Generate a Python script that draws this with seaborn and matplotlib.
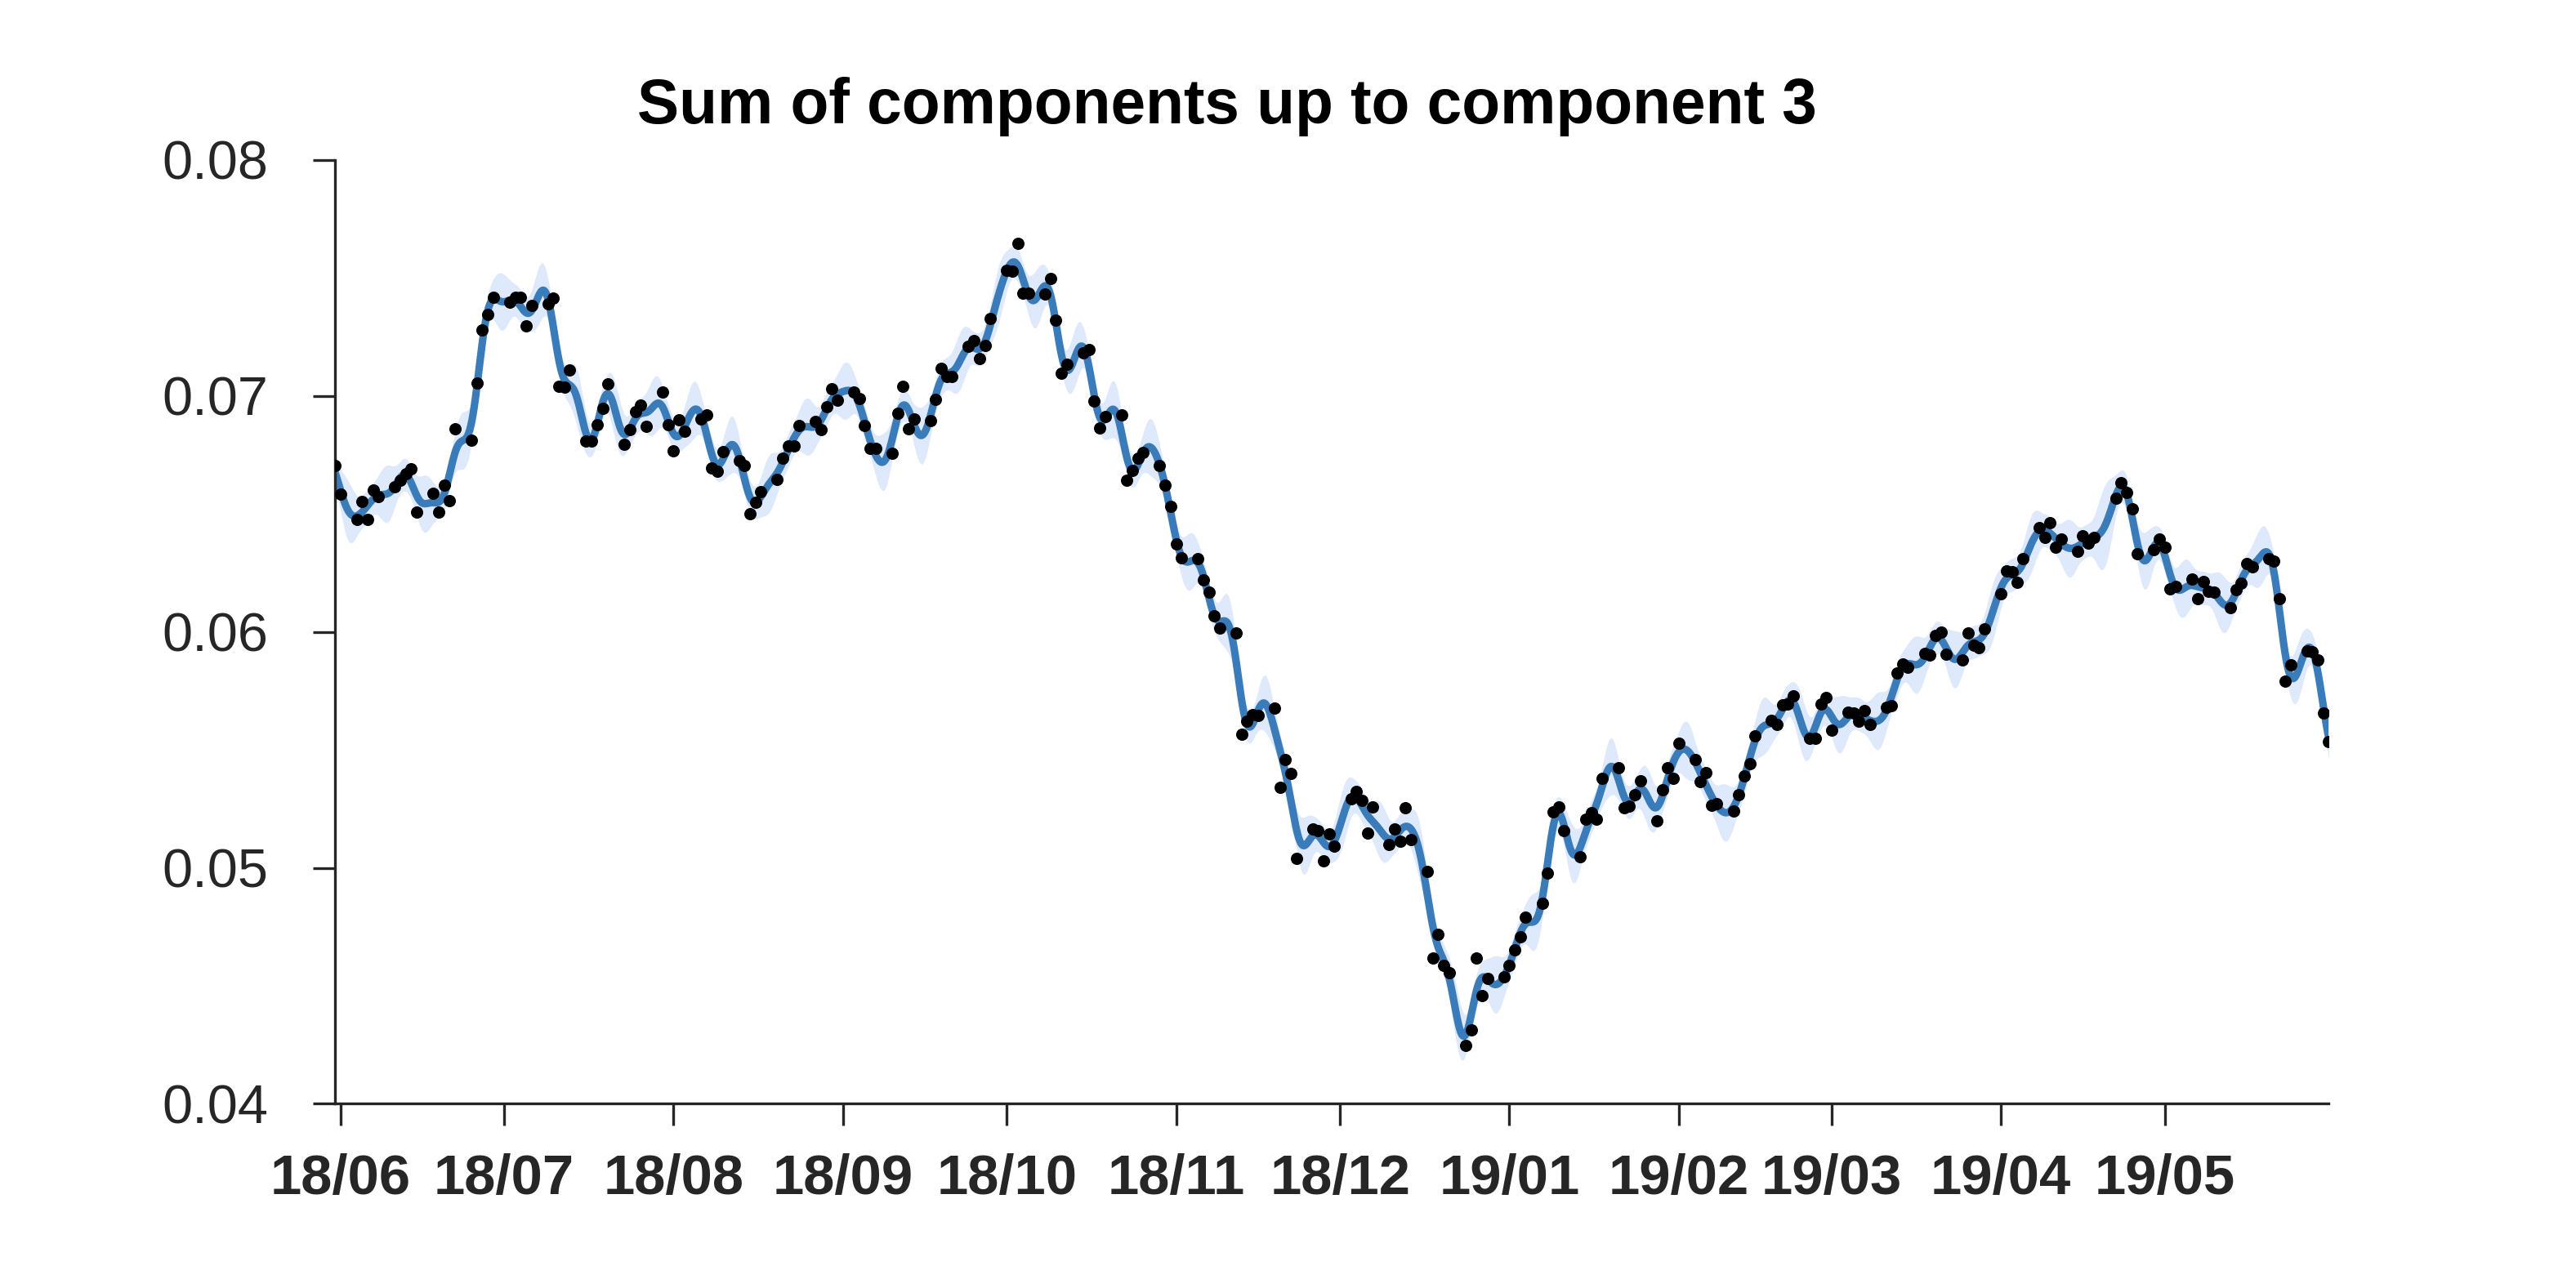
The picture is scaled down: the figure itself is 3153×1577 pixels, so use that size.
import numpy as np
import pandas as pd
import matplotlib
matplotlib.use("Agg")
import matplotlib.pyplot as plt
import seaborn as sns

# ---------------- data ----------------
start_date = "2018-05-31"
end_date = "2019-05-31"
market_holidays = ["2019-04-19"]

observed = [
    0.06705, 0.06582,
    0.06475, 0.06553, 0.06475, 0.06599, 0.06574,
    0.06613, 0.06643, 0.06668, 0.06691, 0.06507,
    0.06585, 0.06507, 0.06622, 0.06555, 0.06859,
    0.06811, 0.07055, 0.07277, 0.07346, 0.07418,
    0.07397, 0.07418, 0.07418, 0.07297, 0.07383,
    0.07389, 0.07415, 0.07039, 0.07037, 0.07108,
    0.06809, 0.06809, 0.06878, 0.06947, 0.07049,
    0.06793, 0.06855, 0.06931, 0.06962, 0.06870,
    0.07017, 0.06876, 0.06766, 0.06899, 0.06851,
    0.06901, 0.06920, 0.06694, 0.06680, 0.06763,
    0.06724, 0.06705, 0.06501, 0.06547, 0.06593,
    0.06645, 0.06735, 0.06789, 0.06786, 0.06874,
    0.06890, 0.06855, 0.06954, 0.07028, 0.06982,
    0.07017, 0.06989, 0.06874, 0.06778, 0.06778,
    0.06757, 0.06926, 0.07040, 0.06859, 0.06901,
    0.06893, 0.06985, 0.07116, 0.07083, 0.07081,
    0.07210, 0.07233, 0.07158, 0.07214, 0.07328,
    0.07533, 0.07527, 0.07645, 0.07435, 0.07435,
    0.07432, 0.07498, 0.07320, 0.07097, 0.07135,
    0.07181, 0.07195, 0.06977, 0.06864, 0.06913,
    0.06918, 0.06643, 0.06682, 0.06734, 0.06761,
    0.06705, 0.06620, 0.06532, 0.06371, 0.06313,
    0.06311, 0.06221, 0.06167, 0.06066, 0.06017,
    0.05994, 0.05567, 0.05621, 0.05648, 0.05644,
    0.05677, 0.05342, 0.05460, 0.05400, 0.05040,
    0.05164, 0.05156, 0.05029, 0.05144, 0.05091,
    0.05294, 0.05325, 0.05287, 0.05146, 0.05259,
    0.05098, 0.05164, 0.05114, 0.05256, 0.05118,
    0.04985, 0.04619, 0.04717, 0.04587, 0.04556,
    0.04249, 0.04314, 0.04619, 0.04458, 0.04530,
    0.04538, 0.04587, 0.04653, 0.04706, 0.04791,
    0.04849, 0.04976, 0.05236, 0.05259, 0.05156,
    0.05048, 0.05206, 0.05233, 0.05206, 0.05379,
    0.05423, 0.05256, 0.05262, 0.05310, 0.05368,
    0.05198, 0.05331, 0.05423, 0.05379, 0.05527,
    0.05458, 0.05365, 0.05402, 0.05264, 0.05271,
    0.05239, 0.05310, 0.05391, 0.05440, 0.05559,
    0.05625, 0.05607, 0.05690, 0.05694, 0.05728,
    0.05550, 0.05550, 0.05694, 0.05723, 0.05582,
    0.05659, 0.05656, 0.05621, 0.05667, 0.05607,
    0.05679, 0.05686, 0.05827, 0.05863, 0.05850,
    0.05907, 0.05901, 0.05986, 0.05999, 0.05905,
    0.05882, 0.05994, 0.05944, 0.05933, 0.06013,
    0.06161, 0.06259, 0.06253, 0.06209, 0.06311,
    0.06440, 0.06401, 0.06463, 0.06357, 0.06392,
    0.06340, 0.06405, 0.06374, 0.06401,
    0.06567, 0.06631, 0.06590, 0.06521, 0.06332,
    0.06348, 0.06394, 0.06359, 0.06182, 0.06193,
    0.06224, 0.06140, 0.06213, 0.06173, 0.06167,
    0.06103, 0.06178, 0.06205, 0.06288, 0.06276,
    0.06311, 0.06299, 0.06140, 0.05790, 0.05861,
    0.05919, 0.05917, 0.05882, 0.05657, 0.05536,
]

y_ticks = [0.04, 0.05, 0.06, 0.07, 0.08]
y_tick_labels = ["0.04", "0.05", "0.06", "0.07", "0.08"]
x_tick_dates = ["2018-06-01", "2018-07-01", "2018-08-01", "2018-09-01",
                "2018-10-01", "2018-11-01", "2018-12-01", "2019-01-01",
                "2019-02-01", "2019-03-01", "2019-04-01", "2019-05-01"]
x_tick_labels = ["18/06", "18/07", "18/08", "18/09", "18/10", "18/11",
                 "18/12", "19/01", "19/02", "19/03", "19/04", "19/05"]
title_text = "Sum of components up to component 3"

# ---------------- build table ----------------
dates = pd.bdate_range(start_date, end_date, freq="C", holidays=market_holidays)
df = pd.DataFrame({"date": dates, "value": observed})

# Gaussian-process smoother of the observations (slow + fast component)
t_obs = (df["date"] - df["date"].iloc[0]).dt.days.to_numpy(float)
y_obs = df["value"].to_numpy(float)
t_grid = np.arange(t_obs[0], t_obs[-1] + 1e-9, 0.1)


def kern(a, b):
    d = a[:, None] - b[None, :]
    return (0.008 ** 2) * np.exp(-d ** 2 / (2 * 25.0 ** 2)) + \
           (0.0013 ** 2) * np.exp(-d ** 2 / (2 * 2.3 ** 2))


noise = 0.00036
mu = y_obs.mean()
K = kern(t_obs, t_obs) + noise ** 2 * np.eye(len(t_obs))
Ks = kern(t_grid, t_obs)
L = np.linalg.cholesky(K)
alpha = np.linalg.solve(L.T, np.linalg.solve(L, y_obs - mu))
f_mean = mu + Ks @ alpha
v = np.linalg.solve(L, Ks.T)
prior_var = 0.008 ** 2 + 0.0013 ** 2
f_std = np.sqrt(np.clip(prior_var - np.sum(v ** 2, axis=0), 0, None))
grid_dates = df["date"].iloc[0] + pd.to_timedelta(t_grid, unit="D")
fit = pd.DataFrame({"date": grid_dates, "mean": f_mean,
                    "lo": f_mean - 3.0 * f_std, "hi": f_mean + 3.0 * f_std})

# ---------------- plot ----------------
sns.set_theme(style="ticks")
plt.rcParams["font.family"] = ["Liberation Sans", "DejaVu Sans"]
text_color = "#262626"

fig = plt.figure(figsize=(3153 / 300, 1577 / 300), dpi=300)
ax = fig.add_axes([0.130, 0.143, 0.774, 0.733])

ax.fill_between(fit["date"], fit["lo"], fit["hi"], color="#dfe9fc", lw=0, zorder=1)
sns.lineplot(data=fit, x="date", y="mean", ax=ax, color="#3a7cba", lw=2.2, zorder=2)
sns.scatterplot(data=df, x="date", y="value", ax=ax, color="black", s=13,
                linewidth=0, zorder=3)

ax.set_xlim(df["date"].iloc[0], df["date"].iloc[-1])
ax.set_ylim(y_ticks[0], y_ticks[-1])
ax.set_yticks(y_ticks)
ax.set_yticklabels(y_tick_labels)
ax.set_xticks(pd.to_datetime(x_tick_dates))
ax.set_xticklabels(x_tick_labels, fontweight="bold")
ax.set_xlabel("")
ax.set_ylabel("")

for side in ["top", "right"]:
    ax.spines[side].set_visible(False)
for side in ["left", "bottom"]:
    ax.spines[side].set_linewidth(0.8)
    ax.spines[side].set_color(text_color)

ax.tick_params(axis="y", direction="out", length=6.5, width=0.8, pad=13,
               labelsize=16, colors=text_color)
ax.tick_params(axis="x", direction="out", length=6.5, width=0.8, pad=8,
               labelsize=16.5, colors=text_color)

fig.text(0.4764, 0.917, title_text, ha="center", va="center",
         fontsize=18.4, fontweight="bold", color="black")

fig.savefig("out.png", dpi=300, facecolor="white")
